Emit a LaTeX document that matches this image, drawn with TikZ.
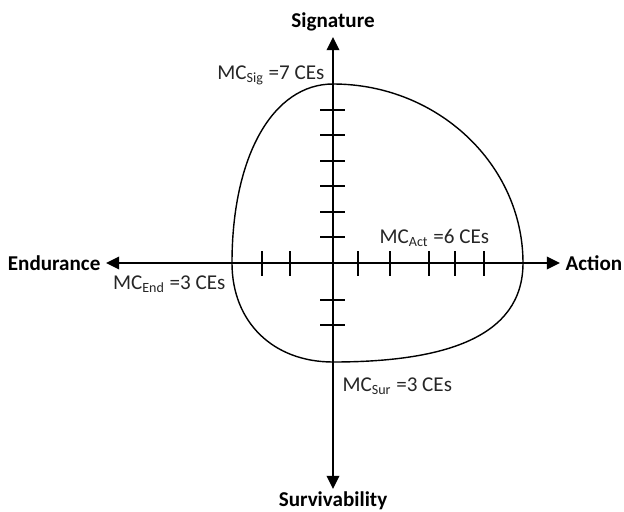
\documentclass[tikz,border=0pt]{standalone}
\usepackage{fontspec}
\setmainfont{Carlito}
\usetikzlibrary{arrows.meta}

\begin{document}
\begin{tikzpicture}[
    x=0.2mm, y=0.2mm,
    every node/.style={font=\fontsize{12}{14}\selectfont, inner sep=3pt},
]

% ---------------------------------------------------------------- styles
\tikzset{
    axis/.style={-{Triangle[length=7.5pt, width=7pt]}, line width=1.6pt},
    tickmark/.style={line width=1pt},
    curve/.style={line width=0.8pt},
    axislabel/.style={font=\fontsize{12}{14}\selectfont\bfseries},
    mclabel/.style={text=black!85},
}

% ================================================================
% Drawn in pixel units, origin where the two axes cross.
% ================================================================
\useasboundingbox (-333,-248) rectangle (291,263);

% ---------------------------------------------------------------- axes
\coordinate (o) at (0,0);
\node[axislabel, anchor=south] (sig)  at (0,226)  {Signature};
\node[axislabel, anchor=west]  (act)  at (227,0)  {Action};
\node[axislabel, anchor=north, inner sep=1.2pt] (sur) at (0,-226) {Survivability};
\node[axislabel, anchor=east]  (endu) at (-227,0) {Endurance};

\draw[axis] (o) -- (sig);
\draw[axis] (o) -- (act);
\draw[axis] (o) -- (sur);
\draw[axis] (o) -- (endu);

% the ticks, one per CE
\foreach \y in {26,51,77,102,128,153,-37,-62}
    \draw[tickmark] (-12.5,\y) -- (12.5,\y);
\foreach \x in {-71,-43,25,57,96,122,151}
    \draw[tickmark] (\x,-12.5) -- (\x,12.5);

% ---------------------------------------------------------------- the profile
\draw[curve] (0,179)
    .. controls (105,179) and (190,98) .. (190,0)
    .. controls (190,-75) and (110,-99) .. (0,-99)
    .. controls (-60,-99) and (-101,-59) .. (-101,0)
    .. controls (-101,107) and (-60,179) .. (0,179);

% ---------------------------------------------------------------- labels
\node[mclabel, anchor=base east] (mcsig) at (-3,184)   {MC\textsubscript{Sig} =7 CEs};
\node[mclabel, anchor=base west] (mcact) at (41,20)    {MC\textsubscript{Act} =6 CEs};
\node[mclabel, anchor=base east] (mcend) at (-102,-26) {MC\textsubscript{End} =3 CEs};
\node[mclabel, anchor=base west] (mcsur) at (4,-128)   {MC\textsubscript{Sur} =3 CEs};

\end{tikzpicture}
\end{document}
